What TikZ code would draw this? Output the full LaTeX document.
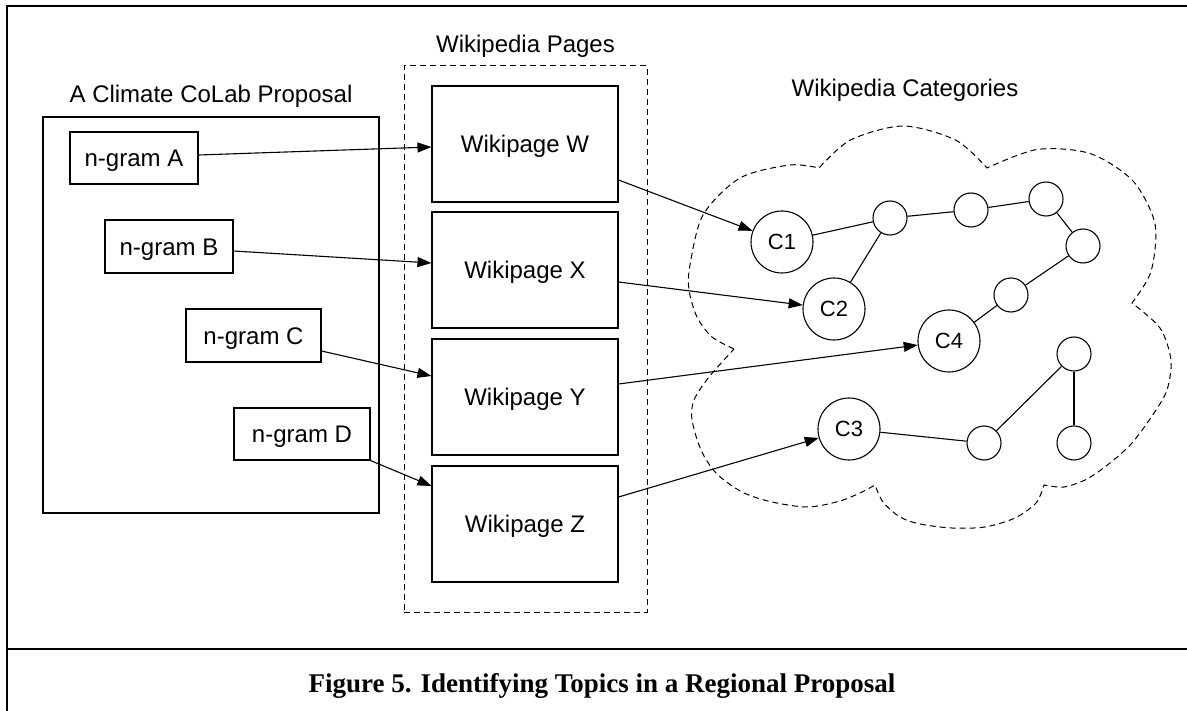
\documentclass[tikz,border=0pt]{standalone}
\usepackage{fontspec}
\setmainfont{Liberation Sans}
\newfontfamily\capfont{Liberation Serif}
\usetikzlibrary{arrows.meta,calc}
\begin{document}
\begin{tikzpicture}[x=1pt,y=-1pt,
  lab/.style={font=\fontsize{24}{28}\selectfont, inner sep=0pt, anchor=base},
  bx/.style={draw, line width=1.1pt, rectangle, inner sep=0pt,
    font=\fontsize{24}{28}\selectfont, text height=17.2pt, text depth=0pt},
  wp/.style={bx, minimum width=186pt, minimum height=116pt},
  cat/.style={draw, circle, line width=1.1pt, minimum size=62pt, inner sep=0pt,
    font=\fontsize{22}{26}\selectfont, text height=15.8pt, text depth=0pt},
  sm/.style={draw, circle, line width=1.1pt, minimum size=34pt, inner sep=0pt},
  arr/.style={line width=1.1pt, -{Triangle[length=14pt,width=10pt]}},
  edge/.style={line width=1.1pt},
  dashln/.style={line width=1pt, dash pattern=on 6pt off 4pt},
  frame/.style={line width=2.4pt}]
\useasboundingbox (0,0) rectangle (1187,711);

% frame
\draw[frame] (7,712) -- (7,6) -- (1190,6);
\draw[frame] (7,649) -- (1190,649);
\node[inner sep=0pt, anchor=base, font=\capfont\bfseries\fontsize{27}{30}\selectfont] (cap) at (602,692)
  {Figure 5. Identifying Topics in a Regional Proposal};

% proposal
\node[lab] (proplab) at (211,103) {A Climate CoLab Proposal};
\node[draw, line width=1.1pt, minimum width=336pt, minimum height=396pt, inner sep=0pt] (prop) at (211,315) {};
\node[bx, minimum width=128pt, minimum height=52pt] (nA) at (134,158) {n-gram A};
\node[bx, minimum width=128pt, minimum height=53pt] (nB) at (169,246.5) {n-gram B};
\node[bx, minimum width=135pt, minimum height=53pt] (nC) at (253.5,335.5) {n-gram C};
\node[bx, minimum width=136pt, minimum height=52pt] (nD) at (302,434) {n-gram D};

% pages
\node[lab] (pagelab) at (525.5,53) {Wikipedia Pages};
\node[draw, dashln, minimum width=243pt, minimum height=546pt, inner sep=0pt] (pages) at (525.5,339) {};
\node[wp] (W) at (525,144) {Wikipage W};
\node[wp] (X) at (525,270) {Wikipage X};
\node[wp] (Y) at (525,397) {Wikipage Y};
\node[wp] (Z) at (525,524) {Wikipage Z};

% categories
\node[lab] (catlab) at (905,97) {Wikipedia Categories};
\draw[dashln]
  plot[smooth] coordinates {(734,349) (712,337) (697,317) (689,290) (690,265) (703,215) (740,178) (790,165) (819,168)}
  -- plot[smooth] coordinates {(819,168) (850.5,140) (903,126) (955.5,140) (987,168)}
  -- plot[smooth] coordinates {(987,168) (1037,149.5) (1090,153.5) (1133,181) (1155,224) (1151,271.5) (1132,303)}
  -- plot[smooth] coordinates {(1132,303) (1160,328) (1171,360) (1167,390) (1154,413) (1132,443) (1110,463) (1087,479) (1064,487) (1044,485)}
  -- plot[smooth] coordinates {(1044,485) (1036,503) (1015,518) (985,527) (952,528) (920,524) (900,517) (883,502) (875,485)}
  -- plot[smooth] coordinates {(875,485) (862,492) (840,501) (808,507) (772,502) (742,492) (716,473) (701,450) (692,420) (694,400) (709,377) (734,349)};

\node[cat] (C1) at (782,242) {C1};
\node[cat] (C2) at (834,309) {C2};
\node[cat] (C3) at (849,429) {C3};
\node[cat] (C4) at (949,341) {C4};
\node[sm] (n1) at (890,218) {};
\node[sm] (n2) at (971,210) {};
\node[sm] (n3) at (1046,199) {};
\node[sm] (n4) at (1083,246) {};
\node[sm] (n5) at (1011,295) {};
\node[sm] (n6) at (984,443) {};
\node[sm] (n7) at (1074,354) {};
\node[sm] (n8) at (1074,443) {};

\draw[edge] (C1) -- (n1);
\draw[edge] (n1) -- (n2);
\draw[edge] (n2) -- (n3);
\draw[edge] (n3) -- (n4);
\draw[edge] (n4) -- (n5);
\draw[edge] (n5) -- (C4);
\draw[edge] (n1) -- (C2);
\draw[edge] (C3) -- (n6);
\draw[edge] (n6) -- (n7);
\draw[edge] (n7) -- (n8);

% arrows
\draw[arr] ($(nA.east)+(0,-3)$) -- ($(W.west)+(0,3)$);
\draw[arr] ($(nB.east)+(0,4.5)$) -- ($(X.west)+(0,-7)$);
\draw[arr] ($(nC.east)+(0,15.5)$) -- ($(Y.west)+(0,-21)$);
\draw[arr] (nD.south east) -- ($(Z.west)+(0,-38)$);
\draw[arr] ($(W.east)+(0,36)$) -- (C1);
\draw[arr] ($(X.east)+(0,12)$) -- (C2);
\draw[arr] ($(Y.east)+(0,-13)$) -- (C4);
\draw[arr] ($(Z.east)+(0,-27)$) -- (C3);
\end{tikzpicture}
\end{document}
